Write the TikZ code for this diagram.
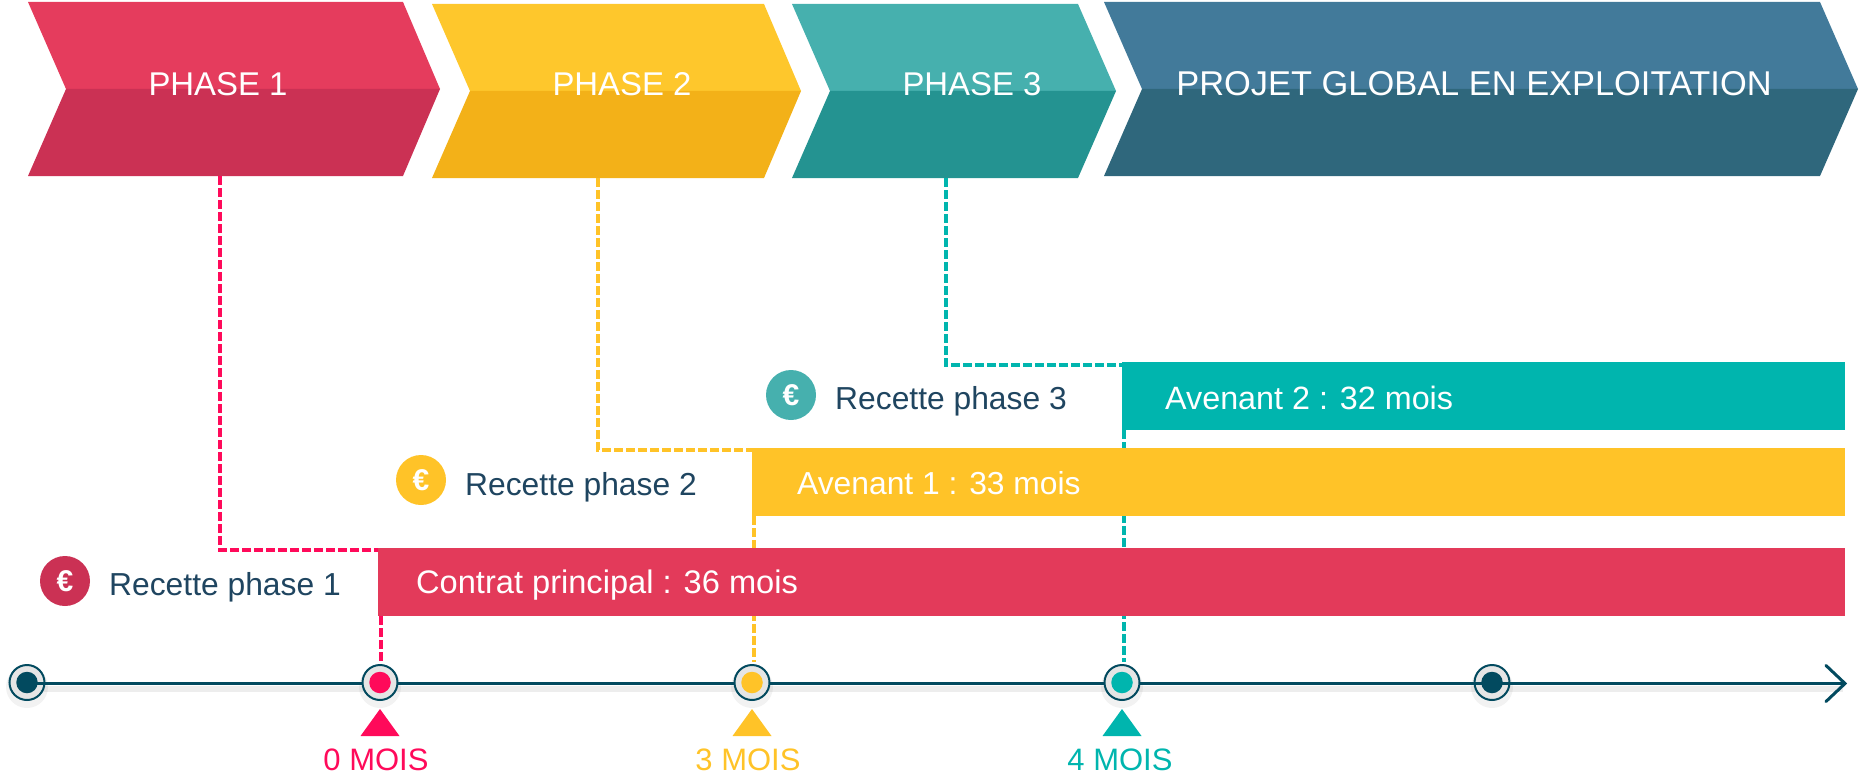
\documentclass[tikz,border=0pt]{standalone}
\usepackage{fontspec}
\setmainfont{Liberation Sans}
\usetikzlibrary{calc}
\definecolor{navy}{HTML}{1F4560}
\definecolor{axis}{HTML}{024A5F}
\definecolor{redD}{HTML}{FF0A5A}
\definecolor{yelD}{HTML}{FFC328}
\definecolor{teaD}{HTML}{00B5AE}
\definecolor{redT}{HTML}{E53C5D}
\definecolor{redB}{HTML}{CB3154}
\definecolor{yelT}{HTML}{FEC72C}
\definecolor{yelB}{HTML}{F3B118}
\definecolor{teaT}{HTML}{46B0AE}
\definecolor{teaB}{HTML}{249391}
\definecolor{bluT}{HTML}{427A9A}
\definecolor{bluB}{HTML}{2F677C}
\definecolor{barR}{HTML}{E33A5A}
\newcommand{\fs}[1]{\fontsize{#1}{#1}\selectfont}
\tikzset{
  x=1pt,y=-1pt,
  dashline/.style={line width=3.4pt,dash pattern=on 8.5pt off 3.5pt},
  barbox/.style={rectangle,anchor=north west,inner sep=0,outer sep=0,minimum height=68pt},
  title/.style={anchor=base,text=white,inner sep=0,font=\fs{32.9}},
  bartext/.style={anchor=base west,text=white,inner sep=0,font=\fs{32.3}},
  recette/.style={anchor=base west,text=navy,inner sep=0,font=\fs{31.8}},
  months/.style={anchor=base,inner sep=0,font=\fs{31}},
  euro/.style={circle,minimum size=50pt,inner sep=0,text=white,font=\bfseries\fs{30}},
  ring/.style={circle,minimum size=35pt,inner sep=0,draw=axis,line width=2pt,fill=black!10},
  core/.style={circle,minimum size=21.5pt,inner sep=0},
  shade/.style={circle,minimum size=42pt,inner sep=0,fill=black,fill opacity=.05}
}
\begin{document}
\begin{tikzpicture}
\useasboundingbox (0,0) rectangle (1860,773);
% chevrons
\fill[redT] (28,2) -- (403,2) -- (440,89) -- (66,89) -- cycle;
\fill[redB] (66,89) -- (440,89) -- (403,176) -- (28,176) -- cycle;
\fill[yelT] (432,4) -- (764,4) -- (801,91) -- (470,91) -- cycle;
\fill[yelB] (470,91) -- (801,91) -- (764,178) -- (432,178) -- cycle;
\fill[teaT] (792,4) -- (1078,4) -- (1116,91) -- (830,91) -- cycle;
\fill[teaB] (830,91) -- (1116,91) -- (1078,178) -- (792,178) -- cycle;
\fill[bluT] (1104,2) -- (1820,2) -- (1858,89) -- (1142,89) -- cycle;
\fill[bluB] (1142,89) -- (1858,89) -- (1820,176) -- (1104,176) -- cycle;
\node[title] (t1) at (218,96) {PHASE 1};
\node[title] (t2) at (622,96) {PHASE 2};
\node[title] (t3) at (972,96) {PHASE 3};
\node[title,font=\fs{34.4}] (t4) at (1474,96) {PROJET GLOBAL EN EXPLOITATION};
\coordinate (foot1) at (220,176);
\coordinate (foot2) at (598,178);
\coordinate (foot3) at (946,178);
% axis
\coordinate (axisStart) at (27,683.5);
\coordinate (axisEnd) at (1845,683.5);
\coordinate (headA) at (1826,665.5);
\coordinate (headB) at (1826,701.5);
\draw[black,opacity=.07,line width=6pt] (27,689) -- (1843,689);
\foreach \n/\x in {a/27,b/380,c/752,d/1122,e/1492}{
  \node[shade] (sh\n) at (\x,687) {};
}
\node[ring] (dot0) at (27,682.5) {};
\node[ring] (dot4) at (1492,682.5) {};
\draw[axis,line width=3.3pt] (axisStart) -- (axisEnd);
\draw[axis,line width=3pt,line cap=round,line join=miter] (headA) -- (axisEnd) -- (headB);
\node[core,fill=axis] (core0) at (dot0) {};
\node[core,fill=axis] (core4) at (dot4) {};
\node[ring] (dot1) at (380,682.5) {};
\node[ring] (dot2) at (752,682.5) {};
\node[ring] (dot3) at (1122,682.5) {};
\node[core,fill=redD] (core1) at (dot1) {};
\node[core,fill=yelD] (core2) at (dot2) {};
\node[core,fill=teaD] (core3) at (dot3) {};
% bars (positions only; drawn over dashes below)
\path
  node[barbox,minimum width=1467pt] (bar1) at (378,548) {}
  node[barbox,minimum width=1093pt] (bar2) at (752,448) {}
  node[barbox,minimum width=723pt] (bar3) at (1122,362) {};
% dashed connectors
\draw[dashline,redD] (foot1) |- ($(bar1.north west)+(0,2)$);
\draw[dashline,yelD] (foot2) |- ($(bar2.north west)+(0,2)$);
\draw[dashline,teaD] (foot3) |- ($(bar3.north west)+(0,3)$);
\draw[dashline,redD] ($(bar1.south west)+(3,0)$) -- ($(dot1.north)+(1,-2)$);
\draw[dashline,yelD] ($(bar2.south west)+(2,0)$) -- ($(dot2.north)+(2,-2)$);
\draw[dashline,teaD] ($(bar3.south west)+(2,0)$) -- ($(dot3.north)+(2,-2)$);
% bars
\fill[barR] (bar1.north west) rectangle (bar1.south east);
\fill[yelD] (bar2.north west) rectangle (bar2.south east);
\fill[teaD] (bar3.north west) rectangle (bar3.south east);
\node[bartext,font=\fs{32.6}] (b1) at (416,593) {Contrat principal : 36 mois};
\node[bartext,font=\fs{31.8}] (b2) at (797,494) {Avenant 1 : 33 mois};
\node[bartext] (b3) at (1165,409) {Avenant 2 : 32 mois};
% recettes
\node[euro,fill=redB] (e1) at (65,581) {€};
\node[euro,fill=yelD] (e2) at (421,480) {€};
\node[euro,fill=teaT] (e3) at (791,395) {€};
\node[recette] (r1) at (109,595) {Recette phase 1};
\node[recette] (r2) at (465,495) {Recette phase 2};
\node[recette] (r3) at (835,409) {Recette phase 3};
% triangles and month labels
\fill[redD] (380,709) -- (399.5,736) -- (360.5,736) -- cycle;
\fill[yelD] (752,709) -- (771.5,736) -- (732.5,736) -- cycle;
\fill[teaD] (1122,709) -- (1141.5,736) -- (1102.5,736) -- cycle;
\node[months,text=redD] (m1) at (376,770.5) {0 MOIS};
\node[months,text=yelD] (m2) at (748,770.5) {3 MOIS};
\node[months,text=teaD] (m3) at (1120,770.5) {4 MOIS};
\end{tikzpicture}
\end{document}
